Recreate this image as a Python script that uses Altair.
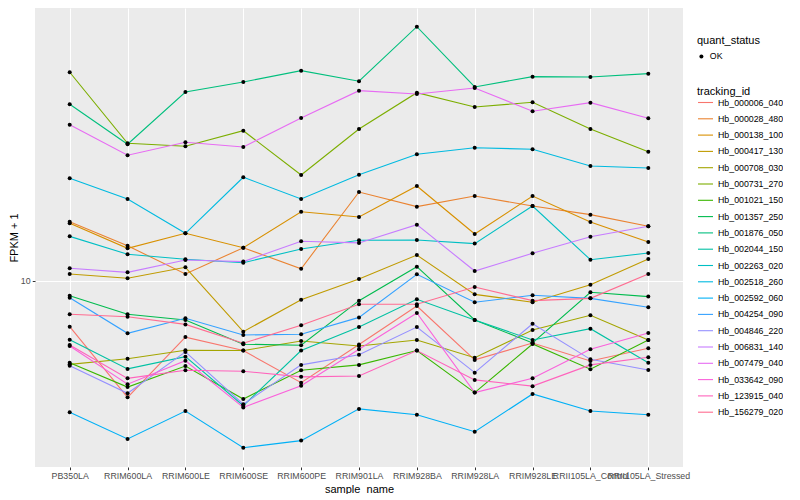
import altair as alt
import pandas as pd

samples = ["PB350LA", "RRIM600LA", "RRIM600LE", "RRIM600SE", "RRIM600PE", "RRIM901LA",
           "RRIM928BA", "RRIM928LA", "RRIM928LE", "RRII105LA_Control", "RRII105LA_Stressed"]

tracking_ids = ["Hb_000006_040", "Hb_000028_480", "Hb_000138_100", "Hb_000417_130", "Hb_000708_030",
                "Hb_000731_270", "Hb_001021_150", "Hb_001357_250", "Hb_001876_050", "Hb_002044_150",
                "Hb_002263_020", "Hb_002518_260", "Hb_002592_060", "Hb_004254_090", "Hb_004846_220",
                "Hb_006831_140", "Hb_007479_040", "Hb_033642_090", "Hb_123915_040", "Hb_156279_020"]

colors = ["#F8766D", "#EA8331", "#D89000", "#C09B00", "#A3A500", "#7CAE00", "#39B600", "#00BB4E",
          "#00BF7D", "#00C1A3", "#00BFC4", "#00BAE0", "#00B0F6", "#35A2FF", "#9590FF", "#C77CFF",
          "#E76BF3", "#FA62DB", "#FF62BC", "#FF6C91"]

# FPKM + 1 per sample (order of `samples`)
Hb_000006_040 = [7.69, 5.12, 7.24, 6.70, 5.57, 6.94, 8.66, 6.35, 7.00, 6.31, 6.79]
Hb_000028_480 = [14.07, 12.25, 10.41, 12.11, 10.73, 16.69, 15.34, 16.31, 15.40, 14.65, 13.70]
Hb_000138_100 = [13.94, 12.07, 13.16, 12.11, 14.90, 14.45, 17.28, 13.11, 16.31, 14.04, 12.52]
Hb_000417_130 = [10.41, 10.16, 10.82, 7.47, 8.98, 10.12, 11.61, 9.26, 8.85, 9.79, 11.35]
Hb_000708_030 = [6.19, 6.39, 6.71, 6.70, 7.08, 6.88, 7.12, 6.43, 7.54, 8.21, 7.12]
Hb_000731_270 = [33.25, 22.09, 21.71, 23.75, 18.41, 23.99, 29.56, 27.23, 27.97, 23.99, 21.05]
Hb_001021_150 = [6.25, 5.43, 6.13, 5.07, 5.98, 6.17, 6.70, 5.26, 6.96, 6.02, 7.12]
Hb_001357_250 = [9.19, 8.26, 7.99, 6.95, 6.91, 8.93, 10.86, 7.99, 7.00, 9.37, 9.14]
Hb_001876_050 = [27.65, 21.97, 29.68, 31.44, 33.56, 31.57, 43.22, 30.55, 32.42, 32.36, 32.98]
Hb_002044_150 = [7.13, 6.03, 6.47, 4.88, 6.70, 7.67, 9.00, 7.99, 7.12, 7.60, 6.25]
Hb_002263_020 = [12.93, 11.66, 11.33, 11.11, 12.02, 12.64, 12.66, 12.40, 15.40, 11.30, 11.75]
Hb_002518_260 = [18.06, 16.03, 13.16, 18.17, 16.03, 18.44, 20.74, 21.54, 21.34, 19.39, 19.17]
Hb_002592_060 = [4.70, 4.03, 4.73, 3.83, 3.99, 4.79, 4.63, 4.20, 5.22, 4.73, 4.63]
Hb_004254_090 = [9.08, 7.40, 8.07, 7.33, 7.36, 8.11, 10.39, 8.85, 9.21, 9.05, 8.60]
Hb_004846_220 = [6.14, 5.24, 6.65, 4.92, 6.17, 6.54, 7.67, 5.90, 7.82, 6.37, 5.99]
Hb_006831_140 = [10.76, 10.51, 11.28, 11.18, 12.57, 12.45, 13.83, 10.59, 11.73, 12.90, 13.70]
Hb_007479_040 = [24.59, 20.62, 22.22, 21.63, 25.56, 29.91, 29.34, 30.37, 26.56, 27.91, 25.51]
Hb_033642_090 = [6.88, 5.52, 6.32, 4.83, 5.47, 6.75, 8.32, 5.26, 5.71, 6.75, 7.41]
Hb_123915_040 = [6.92, 5.71, 5.98, 5.95, 5.76, 5.79, 6.70, 5.66, 5.46, 6.17, 6.45]
Hb_156279_020 = [8.26, 8.14, 7.79, 6.99, 7.75, 8.75, 8.75, 9.66, 8.93, 9.05, 10.41]

series = [Hb_000006_040, Hb_000028_480, Hb_000138_100, Hb_000417_130, Hb_000708_030,
          Hb_000731_270, Hb_001021_150, Hb_001357_250, Hb_001876_050, Hb_002044_150,
          Hb_002263_020, Hb_002518_260, Hb_002592_060, Hb_004254_090, Hb_004846_220,
          Hb_006831_140, Hb_007479_040, Hb_033642_090, Hb_123915_040, Hb_156279_020]

rows = []
for tid, vals in zip(tracking_ids, series):
    for s, v in zip(samples, vals):
        rows.append({"tracking_id": tid, "sample_name": s, "fpkm": v, "quant_status": "OK"})
df = pd.DataFrame(rows)

FONT = "Liberation Sans"

x = alt.X("sample_name:N", sort=samples,
          scale=alt.Scale(type="point", padding=0.6),
          axis=alt.Axis(title="sample_name", labelAngle=0, labelFontSize=8.8, labelColor="#4D4D4D",
                        tickColor="#333333", tickSize=2.75, tickWidth=1, labelPadding=2.2,
                        domain=False, grid=True, gridColor="#FFFFFF", gridWidth=1.07,
                        titleFontSize=11, titleColor="#000000", titleFontWeight="normal",
                        titlePadding=3))
y = alt.Y("fpkm:Q",
          scale=alt.Scale(type="log", domain=[3.428, 48.13], nice=False, zero=False),
          axis=alt.Axis(title="FPKM + 1", values=[10], format="d", labelFontSize=8.8,
                        labelColor="#4D4D4D", tickColor="#333333", tickSize=2.75, tickWidth=1,
                        labelPadding=2.2, domain=False, grid=True, gridColor="#FFFFFF",
                        gridWidth=1.07, titleFontSize=11, titleColor="#000000",
                        titleFontWeight="normal", titlePadding=1))

lines = alt.Chart(df).mark_line(strokeWidth=1.1).encode(
    x=x, y=y,
    color=alt.Color("tracking_id:N",
                    scale=alt.Scale(domain=tracking_ids, range=colors),
                    legend=alt.Legend(title="tracking_id", orient="none", legendX=662, legendY=78,
                                      symbolType="stroke", symbolSize=225, symbolStrokeWidth=1.1,
                                      labelFontSize=8.8, titleFontSize=11, titleFontWeight="normal",
                                      rowPadding=2.3, labelColor="#000000", titleColor="#000000",
                                      titlePadding=-3)),
    detail="tracking_id:N",
)

points = alt.Chart(df).mark_point(filled=True, size=16, color="black", opacity=1).encode(
    x=x, y=y,
    shape=alt.Shape("quant_status:N", scale=alt.Scale(domain=["OK"], range=["circle"]),
                    legend=alt.Legend(title="quant_status", orient="none", legendX=662, legendY=27,
                                      symbolSize=16, symbolFillColor="black", symbolStrokeColor="black",
                                      labelFontSize=8.8, titleFontSize=11, titleFontWeight="normal",
                                      labelColor="#000000", titleColor="#000000", titlePadding=6)),
)

chart = alt.layer(lines, points).properties(
    width=648, height=459,
    padding={"left": 27, "top": 0, "right": 100, "bottom": 27},
    autosize=alt.AutoSizeParams(type="none"),
).configure(font=FONT).configure_view(fill="#EBEBEB", stroke=None)

chart.save("out.html", embed_options={"renderer": "svg", "actions": False})
